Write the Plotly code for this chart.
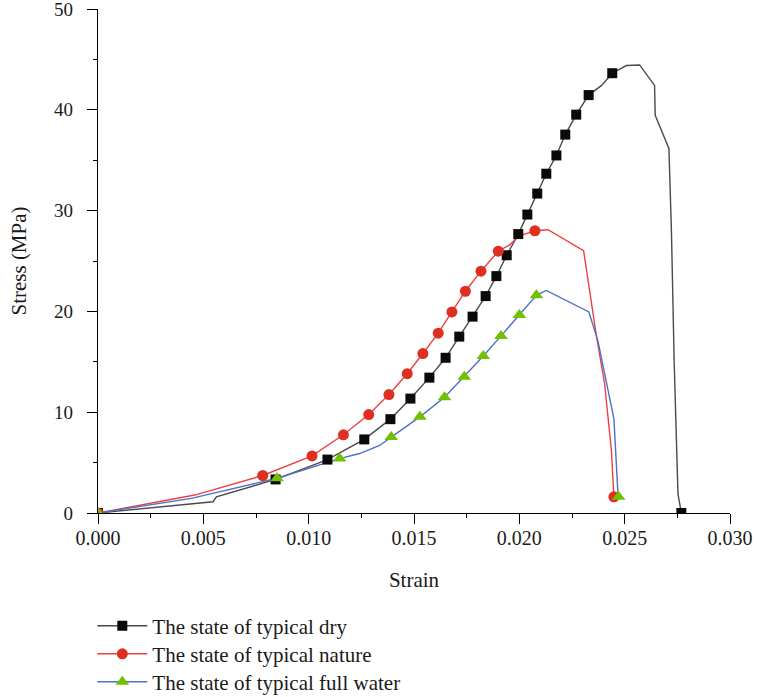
import plotly.graph_objects as go

# ---- data ----
dry_line_x = [0, 0.00546, 0.00562, 0.00843, 0.01089, 0.01264, 0.01388, 0.01483, 0.01573, 0.0165,
              0.01715, 0.01778, 0.0184, 0.01891, 0.0194, 0.01995, 0.02038, 0.02085, 0.02128, 0.02176,
              0.02218, 0.0227, 0.02329, 0.02389, 0.02441, 0.02508, 0.02571, 0.02642, 0.02645, 0.0271,
              0.02722, 0.02735, 0.02753, 0.02769]
dry_line_y = [0, 1.12, 1.6, 3.33, 5.30, 7.3, 9.31, 11.35, 13.43, 15.4,
              17.5, 19.48, 21.52, 23.5, 25.57, 27.67, 29.61, 31.69, 33.66, 35.47,
              37.54, 39.52, 41.46, 42.4, 43.63, 44.39, 44.45, 42.42, 39.46, 36.16,
              28.0, 15.0, 1.9, 0]
dry_mark_x = [0, 0.00843, 0.01089, 0.01264, 0.01388, 0.01483, 0.01573, 0.0165, 0.01715, 0.01778,
              0.0184, 0.01891, 0.0194, 0.01995, 0.02038, 0.02085, 0.02128, 0.02176, 0.02218, 0.0227,
              0.02329, 0.02441, 0.02769]
dry_mark_y = [0, 3.33, 5.30, 7.3, 9.31, 11.35, 13.43, 15.4, 17.5, 19.48,
              21.52, 23.5, 25.57, 27.67, 29.61, 31.69, 33.66, 35.47, 37.54, 39.52,
              41.46, 43.63, 0]

nat_line_x = [0, 0.00459, 0.00782, 0.01016, 0.01165, 0.01285, 0.01381, 0.01468, 0.01542, 0.01615,
              0.0168, 0.01744, 0.01818, 0.019, 0.01954, 0.02001, 0.02074, 0.02136, 0.02305, 0.02365,
              0.02405, 0.02437, 0.02449]
nat_line_y = [0, 1.78, 3.72, 5.66, 7.76, 9.77, 11.75, 13.82, 15.82, 17.84,
              19.95, 22.0, 23.99, 25.97, 26.6, 27.5, 28.0, 28.1, 26.03, 17.7,
              12.8, 6.2, 1.6]
nat_mark_x = [0, 0.00782, 0.01016, 0.01165, 0.01285, 0.01381, 0.01468, 0.01542, 0.01615, 0.0168,
              0.01744, 0.01818, 0.019, 0.02074, 0.02449]
nat_mark_y = [0, 3.72, 5.66, 7.76, 9.77, 11.75, 13.82, 15.82, 17.84, 19.95,
              22.0, 23.99, 25.97, 28.0, 1.6]

wat_line_x = [0, 0.00443, 0.0085, 0.01147, 0.01242, 0.01337, 0.01392, 0.01528, 0.01645, 0.01739,
              0.01829, 0.01913, 0.02, 0.02081, 0.02128, 0.0233, 0.02373, 0.02449, 0.02468, 0.02471]
wat_line_y = [0, 1.45, 3.45, 5.4, 5.9, 6.7, 7.53, 9.54, 11.48, 13.52,
              15.57, 17.57, 19.64, 21.59, 22.08, 19.94, 17.08, 9.35, 1.94, 1.6]
wat_mark_x = [0, 0.0085, 0.01147, 0.01392, 0.01528, 0.01645, 0.01739, 0.01829, 0.01913, 0.02,
              0.02081, 0.02471]
wat_mark_y = [0, 3.45, 5.4, 7.53, 9.54, 11.48, 13.52, 15.57, 17.57, 19.64,
              21.59, 1.6]

series_names = ["The state of typical dry", "The state of typical nature",
                "The state of typical full water"]
x_ticks = [0.000, 0.005, 0.010, 0.015, 0.020, 0.025, 0.030]
y_ticks = [0, 10, 20, 30, 40, 50]

FONT = "Liberation Serif"
TEXT = "#1a1a1a"

styles = [
    dict(lx=dry_line_x, ly=dry_line_y, mx=dry_mark_x, my=dry_mark_y,
         lc="#4a4a4a", mc="#0a0a0a", sym="square", size=10),
    dict(lx=nat_line_x, ly=nat_line_y, mx=nat_mark_x, my=nat_mark_y,
         lc="#ee4040", mc="#dd3020", sym="circle", size=11),
    dict(lx=wat_line_x, ly=wat_line_y, mx=wat_mark_x, my=wat_mark_y,
         lc="#4a72c8", mc="#72c000", sym="triangle-up", size=12),
]
legend_ids = ["legend", "legend2", "legend3"]
legend_rows_y = [-0.2244, -0.2800, -0.3356]   # paper fractions (below the plot)

fig = go.Figure()
for name, s in zip(series_names, styles):
    fig.add_trace(go.Scatter(x=s["lx"], y=s["ly"], mode="lines",
                             line=dict(color=s["lc"], width=1.4),
                             showlegend=False, hoverinfo="skip"))
for name, s in zip(series_names, styles):
    fig.add_trace(go.Scatter(x=s["mx"], y=s["my"], mode="markers",
                             marker=dict(symbol=s["sym"], size=s["size"], color=s["mc"]),
                             showlegend=False, name=name))
for name, s, lid in zip(series_names, styles, legend_ids):
    fig.add_trace(go.Scatter(x=[None], y=[None], mode="lines+markers", name=name, legend=lid,
                             line=dict(color=s["lc"], width=1.4),
                             marker=dict(symbol=s["sym"], size=s["size"], color=s["mc"])))

axis_common = dict(
    showline=True, linecolor="black", linewidth=1.4, mirror=False,
    showgrid=False, zeroline=False, automargin=False,
    ticks="outside", ticklen=10, tickwidth=1.3, tickcolor="black",
    ticklabeloverflow="allow",
)

legend_common = dict(x=-0.009, xanchor="left", yanchor="middle",
                     font=dict(family=FONT, size=21, color=TEXT),
                     itemwidth=50, bgcolor="rgba(0,0,0,0)")

fig.update_layout(
    width=757, height=697,
    margin=dict(l=98, r=27, t=9, b=184, autoexpand=False),
    paper_bgcolor="white", plot_bgcolor="white",
    font=dict(family=FONT, size=20, color=TEXT),
    xaxis=dict(range=[0, 0.030], tickvals=x_ticks, tickformat=".3f",
               tickfont=dict(family=FONT, size=20, color=TEXT),
               minor=dict(ticks="outside", ticklen=4, tickwidth=1.3, tickcolor="black", dtick=0.0025),
               title=dict(text="Strain", standoff=24, font=dict(family=FONT, size=21, color=TEXT)),
               ticklabelstandoff=-3,
               **axis_common),
    yaxis=dict(range=[0, 50], tickvals=y_ticks,
               tickfont=dict(family=FONT, size=19, color=TEXT),
               minor=dict(ticks="outside", ticklen=4, tickwidth=1.3, tickcolor="black", dtick=5),
               title=dict(text="Stress (MPa)", standoff=21, font=dict(family=FONT, size=21, color=TEXT)),
               ticklabelstandoff=10,
               **axis_common),
    legend=dict(y=legend_rows_y[0], **legend_common),
    legend2=dict(y=legend_rows_y[1], **legend_common),
    legend3=dict(y=legend_rows_y[2], **legend_common),
)

fig.write_html("out.html", config={"displayModeBar": False},
               post_script="document.body.style.margin='0';")
